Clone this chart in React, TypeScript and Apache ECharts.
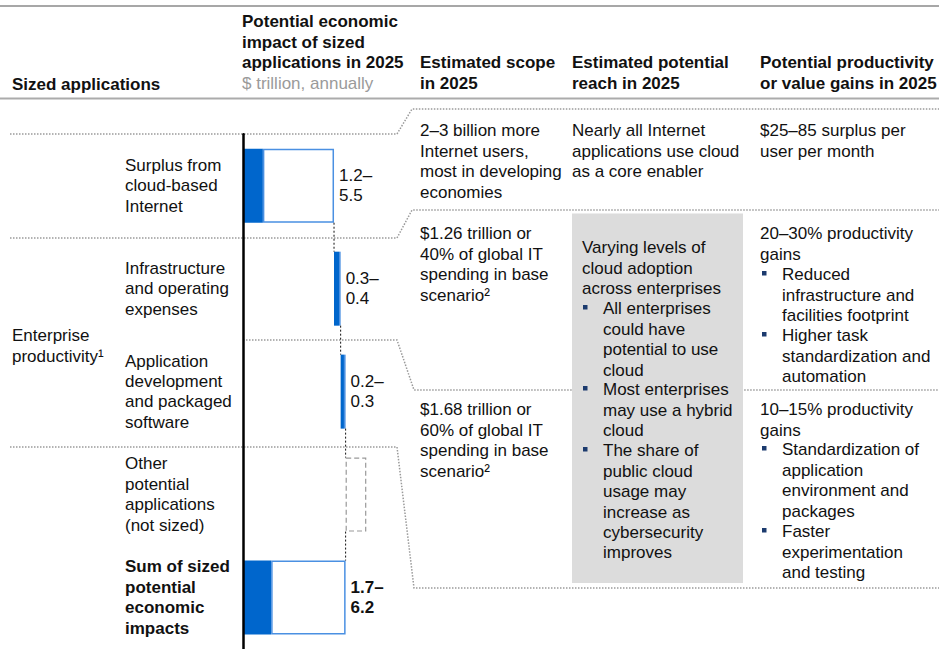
import React, { useEffect, useRef } from "react";
import * as echarts from "echarts";

// ---------- DATA ----------
const categories = [
  "Surplus from\ncloud-based\nInternet",
  "Infrastructure\nand operating\nexpenses",
  "Application\ndevelopment\nand packaged\nsoftware",
  "Other\npotential\napplications\n(not sized)",
  "Sum of sized\npotential\neconomic\nimpacts",
];
const lowValues: (number | null)[] = [1.2, 0.3, 0.2, null, 1.7];
const highValues: (number | null)[] = [5.5, 0.4, 0.3, null, 6.2];
const isTotal = [false, false, false, false, true];
const isNotSized = [false, false, false, true, false];
const notSizedPlaceholder = 1.25;

const headerSized = ["Sized applications"];
const headerImpact = ["Potential economic", "impact of sized", "applications in 2025"];
const headerImpactUnit = ["$ trillion, annually"];
const headerScope = ["Estimated scope", "in 2025"];
const headerReach = ["Estimated potential", "reach in 2025"];
const headerGains = ["Potential productivity", "or value gains in 2025"];

const groupLabel = ["Enterprise", "productivity\u00b9"];

const scopeRow1 = ["2\u20133 billion more", "Internet users,", "most in developing", "economies"];
const reachRow1 = ["Nearly all Internet", "applications use cloud", "as a core enabler"];
const gainsRow1 = ["$25\u201385 surplus per", "user per month"];

const scopeRow2 = ["$1.26 trillion or", "40% of global IT", "spending in base", "scenario\u00b2"];
const scopeRow3 = ["$1.68 trillion or", "60% of global IT", "spending in base", "scenario\u00b2"];

const reachIntro = ["Varying levels of", "cloud adoption", "across enterprises"];
const reachBullets = [
  ["All enterprises", "could have", "potential to use", "cloud"],
  ["Most enterprises", "may use a hybrid", "cloud"],
  ["The share of", "public cloud", "usage may", "increase as", "cybersecurity", "improves"],
];

const gainsRow2Head = ["20\u201330% productivity", "gains"];
const gainsRow2Bullets = [
  ["Reduced", "infrastructure and", "facilities footprint"],
  ["Higher task", "standardization and", "automation"],
];
const gainsRow3Head = ["10\u201315% productivity", "gains"];
const gainsRow3Bullets = [
  ["Standardization of", "application", "environment and", "packages"],
  ["Faster", "experimentation", "and testing"],
];

// ---------- STYLE ----------
const FONT = "'Liberation Sans', Arial, Helvetica, sans-serif";
const FS = 17;
const LH = 20.4;
const DARK = "#0066cc";
const LIGHT = "#4a90e2";
const NAVY = "#1c3b6e";
const BAR_H = 74;
const DY = 1;

function txt(x: number, yc: number, lines: string[], opts: any = {}) {
  return {
    type: "text",
    x,
    y: yc + DY - LH / 2,
    z: 20,
    style: {
      text: lines.join("\n"),
      fontFamily: FONT,
      fontSize: FS,
      fontWeight: opts.bold ? "bold" : "normal",
      fill: opts.color || "#111",
      lineHeight: LH,
      align: "left",
      verticalAlign: "top",
    },
  };
}

function bulletList(bx: number, tx: number, yStarts: number[], items: string[][]) {
  const els: any[] = [];
  items.forEach((lines, k) => {
    const yc = yStarts[k];
    els.push({
      type: "rect",
      z: 20,
      shape: { x: bx, y: yc - 3, width: 4.5, height: 4.5 },
      style: { fill: NAVY },
    });
    els.push(txt(tx, yc, lines));
  });
  return els;
}

function dotted(points: number[][]) {
  return {
    type: "polyline",
    z: 1,
    shape: { points },
    style: { stroke: "#9a9a9a", lineWidth: 1.5, lineDash: [1.5, 1.5], fill: null },
  };
}

export default function App() {
  const ref = useRef<HTMLDivElement>(null);

  useEffect(() => {
    if (!ref.current) return;
    const chart = echarts.init(ref.current, null, { renderer: "svg" });

    // waterfall computation from the data arrays
    let cum = 0;
    const baseData: number[] = [];
    const lowData: any[] = [];
    const restData: any[] = [];
    const otherData: any[] = [];
    const connectors: number[][] = [];
    categories.forEach((_, i) => {
      const lo = lowValues[i];
      const hi = highValues[i];
      if (isTotal[i]) {
        baseData.push(0);
        lowData.push(lo);
        restData.push({ value: (hi as number) - (lo as number), label: { fontWeight: "bold" } });
        otherData.push("-");
      } else if (isNotSized[i]) {
        baseData.push(cum);
        lowData.push("-");
        restData.push("-");
        otherData.push(notSizedPlaceholder);
      } else {
        baseData.push(cum);
        lowData.push(lo);
        restData.push((hi as number) - (lo as number));
        otherData.push("-");
        cum += hi as number;
      }
      if (i < categories.length - 1) connectors.push([cum, i]);
    });

    const graphicEls: any[] = [
      // header rules
      { type: "line", z: 5, shape: { x1: 0, y1: 6, x2: 939, y2: 6 }, style: { stroke: "#8a8a8a", lineWidth: 1.5 } },
      { type: "line", z: 5, shape: { x1: 0, y1: 98.5, x2: 939, y2: 98.5 }, style: { stroke: "#ababab", lineWidth: 2 } },
      // dotted separators
      dotted([[10, 134], [397, 134], [412, 109], [939, 109]]),
      dotted([[10, 238], [397, 238], [412, 210], [939, 210]]),
      dotted([[243, 340], [397, 340], [414, 390], [939, 390]]),
      dotted([[10, 447], [397, 447], [414, 588], [939, 588]]),
      // grey box
      { type: "rect", z: 10, shape: { x: 572, y: 213.5, width: 171, height: 369.5 }, style: { fill: "#dcdcdc" } },
      // headers
      txt(12, 84, headerSized, { bold: true }),
      txt(242, 21, headerImpact, { bold: true }),
      txt(242, 83, headerImpactUnit, { color: "#9a9a9a" }),
      txt(420, 62, headerScope, { bold: true }),
      txt(572, 62, headerReach, { bold: true }),
      txt(760, 62, headerGains, { bold: true }),
      // group label
      txt(12, 335, groupLabel),
      // row 1
      txt(420, 130, scopeRow1),
      txt(572, 130, reachRow1),
      txt(760, 130, gainsRow1),
      // rows 2/3
      txt(420, 233, scopeRow2),
      txt(420, 409, scopeRow3),
      txt(582, 247, reachIntro),
      ...bulletList(583, 603, [308, 389, 450], reachBullets),
      txt(760, 233, gainsRow2Head),
      ...bulletList(762, 782, [274, 335], gainsRow2Bullets),
      txt(760, 409, gainsRow3Head),
      ...bulletList(762, 782, [449, 531], gainsRow3Bullets),
    ];

    const axisLabelStyle = {
      align: "left",
      fontSize: FS,
      fontFamily: FONT,
      color: "#111",
      lineHeight: LH,
    };

    chart.setOption({
      animation: false,
      grid: { left: 243, top: 134.25, width: 165.5, height: 517.5, containLabel: false },
      xAxis: { type: "value", min: 0, max: 10, show: false },
      yAxis: {
        type: "category",
        inverse: true,
        data: categories.map((c, i) =>
          isTotal[i] ? { value: c, textStyle: { ...axisLabelStyle, fontWeight: "bold" } } : c
        ),
        axisLine: { show: true, lineStyle: { color: "#000", width: 2.5 } },
        axisTick: { show: false },
        splitLine: { show: false },
        axisLabel: { interval: 0, margin: 118, ...axisLabelStyle },
        z: 6,
      },
      series: [
        {
          name: "base",
          type: "bar",
          stack: "w",
          barWidth: BAR_H,
          itemStyle: { color: "transparent" },
          data: baseData,
          silent: true,
        },
        {
          name: "low",
          type: "bar",
          stack: "w",
          barWidth: BAR_H,
          itemStyle: { color: DARK },
          data: lowData,
        },
        {
          name: "range",
          type: "bar",
          stack: "w",
          barWidth: BAR_H,
          itemStyle: { color: "#ffffff", borderColor: LIGHT, borderWidth: 1.5 },
          label: {
            show: true,
            position: "right",
            distance: 5,
            fontSize: FS,
            fontFamily: FONT,
            color: "#111",
            lineHeight: LH,
            align: "left",
            formatter: (p: any) =>
              `${(lowValues[p.dataIndex] as number).toFixed(1)}\u2013\n${(highValues[p.dataIndex] as number).toFixed(1)}`,
          },
          data: restData,
        },
        {
          name: "not sized",
          type: "bar",
          stack: "w",
          barWidth: BAR_H,
          itemStyle: { color: "transparent", borderColor: "#999", borderWidth: 1.2, borderType: [5, 3] },
          data: otherData,
        },
        {
          name: "connectors",
          type: "custom",
          clip: false,
          z: 5,
          encode: { x: 0, y: 1 },
          data: connectors,
          renderItem: (params: any, api: any) => {
            const xv = api.value(0);
            const i = api.value(1);
            const p1 = api.coord([xv, i]);
            const p2 = api.coord([xv, i + 1]);
            return {
              type: "line",
              shape: { x1: p1[0], y1: p1[1] + BAR_H / 2, x2: p2[0], y2: p2[1] - BAR_H / 2 },
              style: { stroke: "#111", lineWidth: 1, lineDash: [2, 2] },
            };
          },
        },
      ],
      graphic: { elements: graphicEls },
    });

    return () => chart.dispose();
  }, []);

  return (
    <div
      ref={ref}
      style={{ position: "absolute", left: 0, top: 0, width: 939, height: 649, background: "#fff" }}
    />
  );
}
